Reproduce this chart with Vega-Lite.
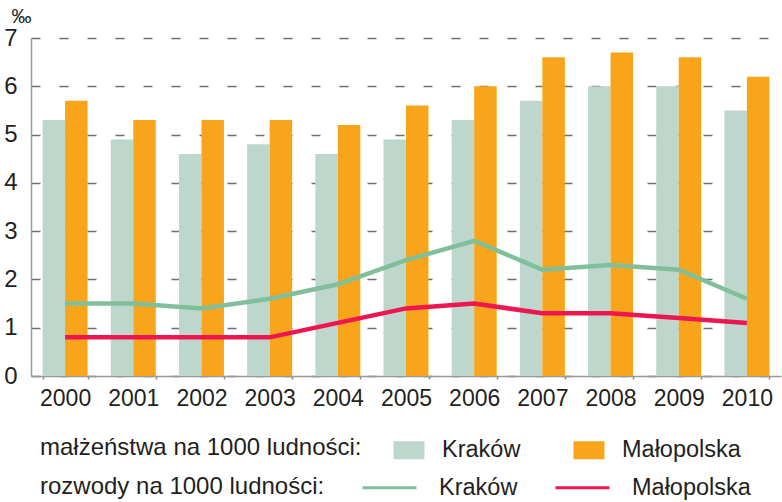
{
  "$schema": "https://vega.github.io/schema/vega-lite/v6.json",
  "width": 750,
  "height": 338,
  "autosize": {"type": "none"},
  "padding": {"left": 31, "top": 38, "right": 1, "bottom": 126},
  "background": "white",
  "config": {"font": "Liberation Sans", "view": {"stroke": null}},
  "datasets": {
    "m": [
      {"year": "2000", "city": "Kraków", "value": 5.3}, {"year": "2000", "city": "Małopolska", "value": 5.7},
      {"year": "2001", "city": "Kraków", "value": 4.9}, {"year": "2001", "city": "Małopolska", "value": 5.3},
      {"year": "2002", "city": "Kraków", "value": 4.6}, {"year": "2002", "city": "Małopolska", "value": 5.3},
      {"year": "2003", "city": "Kraków", "value": 4.8}, {"year": "2003", "city": "Małopolska", "value": 5.3},
      {"year": "2004", "city": "Kraków", "value": 4.6}, {"year": "2004", "city": "Małopolska", "value": 5.2},
      {"year": "2005", "city": "Kraków", "value": 4.9}, {"year": "2005", "city": "Małopolska", "value": 5.6},
      {"year": "2006", "city": "Kraków", "value": 5.3}, {"year": "2006", "city": "Małopolska", "value": 6.0},
      {"year": "2007", "city": "Kraków", "value": 5.7}, {"year": "2007", "city": "Małopolska", "value": 6.6},
      {"year": "2008", "city": "Kraków", "value": 6.0}, {"year": "2008", "city": "Małopolska", "value": 6.7},
      {"year": "2009", "city": "Kraków", "value": 6.0}, {"year": "2009", "city": "Małopolska", "value": 6.6},
      {"year": "2010", "city": "Kraków", "value": 5.5}, {"year": "2010", "city": "Małopolska", "value": 6.2}
    ],
    "r": [
      {"year": "2000", "region": "Kraków", "rate": 1.5}, {"year": "2000", "region": "Małopolska", "rate": 0.8},
      {"year": "2001", "region": "Kraków", "rate": 1.5}, {"year": "2001", "region": "Małopolska", "rate": 0.8},
      {"year": "2002", "region": "Kraków", "rate": 1.4}, {"year": "2002", "region": "Małopolska", "rate": 0.8},
      {"year": "2003", "region": "Kraków", "rate": 1.6}, {"year": "2003", "region": "Małopolska", "rate": 0.8},
      {"year": "2004", "region": "Kraków", "rate": 1.9}, {"year": "2004", "region": "Małopolska", "rate": 1.1},
      {"year": "2005", "region": "Kraków", "rate": 2.4}, {"year": "2005", "region": "Małopolska", "rate": 1.4},
      {"year": "2006", "region": "Kraków", "rate": 2.8}, {"year": "2006", "region": "Małopolska", "rate": 1.5},
      {"year": "2007", "region": "Kraków", "rate": 2.2}, {"year": "2007", "region": "Małopolska", "rate": 1.3},
      {"year": "2008", "region": "Kraków", "rate": 2.3}, {"year": "2008", "region": "Małopolska", "rate": 1.3},
      {"year": "2009", "region": "Kraków", "rate": 2.2}, {"year": "2009", "region": "Małopolska", "rate": 1.2},
      {"year": "2010", "region": "Kraków", "rate": 1.6}, {"year": "2010", "region": "Małopolska", "rate": 1.1}
    ]
  },
  "layer": [
    {
      "data": {"name": "m"},
      "mark": {"type": "bar"},
      "encoding": {
        "x": {
          "field": "year", "type": "ordinal",
          "scale": {"paddingInner": 0.34, "paddingOuter": 0.17},
          "axis": {
            "title": null, "labelAngle": 0, "tickBand": "extent", "tickSize": 3,
            "tickColor": "#888888", "tickWidth": 1.5, "domainColor": "#999999", "domainWidth": 1.5,
            "labelFontSize": 23, "labelPadding": 8, "labelColor": "#231f20", "grid": false
          }
        },
        "xOffset": {"field": "city", "type": "nominal", "scale": {"paddingInner": 0, "paddingOuter": 0}},
        "y": {
          "field": "value", "type": "quantitative",
          "scale": {"domain": [0, 7], "nice": false},
          "axis": {
            "values": [0, 1, 2, 3, 4, 5, 6, 7],
            "title": "‰", "titleAngle": 0, "titleX": -10, "titleY": -16, "titleAlign": "center",
            "titleBaseline": "alphabetic", "titleFontSize": 20, "titleFontWeight": "normal", "titleColor": "#231f20",
            "grid": true, "gridDash": [9, 19], "gridColor": "#707070", "gridWidth": 1.5,
            "ticks": false, "labelPadding": 14, "labelFontSize": 24, "labelColor": "#231f20",
            "domainColor": "#999999", "domainWidth": 1.5
          }
        },
        "fill": {
          "field": "city", "type": "nominal",
          "scale": {"domain": ["Kraków", "Małopolska"], "range": ["#bdd7cc", "#f9a51b"]},
          "legend": {
            "title": "małżeństwa na 1000 ludności:",
            "orient": "none", "legendX": 9, "legendY": 397, "direction": "horizontal",
            "titleOrient": "left", "titleAnchor": "middle", "titleBaseline": "middle",
            "titlePadding": 32, "labelOffset": 18, "columnPadding": 52,
            "symbolType": "M-1.033,-0.6H1.033V0.6H-1.033Z", "symbolSize": 900, "symbolStrokeWidth": 0,
            "labelFontSize": 23.5, "titleFontSize": 24, "titleFontWeight": "normal",
            "titleColor": "#231f20", "labelColor": "#231f20", "titleLimit": 500, "labelLimit": 300
          }
        }
      }
    },
    {
      "data": {"name": "r"},
      "mark": {"type": "line", "strokeWidth": 4.5},
      "encoding": {
        "x": {"field": "year", "type": "ordinal"},
        "y": {"field": "rate", "type": "quantitative"},
        "stroke": {
          "field": "region", "type": "nominal",
          "scale": {"domain": ["Kraków", "Małopolska"], "range": ["#80bf9a", "#ee1651"]},
          "legend": {
            "title": "rozwody na 1000 ludności:",
            "orient": "none", "legendX": 9, "legendY": 433, "direction": "horizontal",
            "titleOrient": "left", "titleAnchor": "middle", "titleBaseline": "middle",
            "titlePadding": 36, "labelOffset": 45, "columnPadding": 31,
            "symbolType": "M-1,-0.6M-1,0H2.6M2.6,0.6", "symbolSize": 900, "symbolStrokeWidth": 3,
            "labelFontSize": 23.5, "titleFontSize": 24, "titleFontWeight": "normal",
            "titleColor": "#231f20", "labelColor": "#231f20", "titleLimit": 500, "labelLimit": 300
          }
        }
      }
    }
  ],
  "resolve": {"legend": {"fill": "independent", "stroke": "independent"}}
}
